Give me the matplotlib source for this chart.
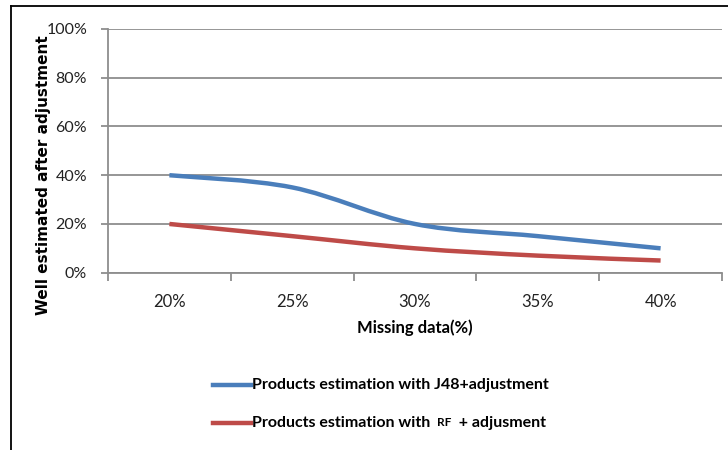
import numpy as np
import matplotlib.pyplot as plt
from matplotlib.path import Path
from matplotlib.patches import PathPatch
from matplotlib.lines import Line2D

categories = ['20%', '25%', '30%', '35%', '40%']
j48_adj = [40, 35, 20, 15, 10]
rf_adj = [20, 15, 10, 7, 5]
yticks = [0, 20, 40, 60, 80, 100]

blue = '#4a7ebb'
red = '#be4b48'
grid_c = '#8e8e8e'

plt.rcParams['font.family'] = ['Lato', 'DejaVu Sans']


def smooth_path(xs, ys):
    # excel style smoothed line: catmull-rom turned into cubic bezier pieces
    pts = np.column_stack([xs, ys]).astype(float)
    n = len(pts)
    verts = [pts[0]]
    codes = [Path.MOVETO]
    for i in range(n - 1):
        p0 = pts[max(i - 1, 0)]
        p1 = pts[i]
        p2 = pts[i + 1]
        p3 = pts[min(i + 2, n - 1)]
        c1 = p1 + (p2 - p0) / 6.0
        c2 = p2 - (p3 - p1) / 6.0
        verts += [c1, c2, p2]
        codes += [Path.CURVE4] * 3
    return Path(verts, codes)


fig = plt.figure(figsize=(7.28, 4.5), dpi=100)
ax = fig.add_axes([108 / 728, 1 - 272.7 / 450, 614 / 728, 243.7 / 450])

x = np.arange(len(categories)) + 0.5
for vals, col in [(j48_adj, blue), (rf_adj, red)]:
    ax.add_patch(PathPatch(smooth_path(x, vals), facecolor='none', edgecolor=col,
                           lw=3.2, capstyle='butt', zorder=3))

ax.set_xlim(0, 5)
ax.set_ylim(0, 100)
ax.set_yticks(yticks)
ax.set_yticklabels([f'{v}%' for v in yticks], fontsize=11.5, color='#222222')
ax.yaxis.grid(True, color=grid_c, lw=1.3)
ax.set_axisbelow(True)

ax.set_xticks(np.arange(6))
ax.set_xticklabels([])
ax.set_xticks(x, minor=True)
ax.set_xticklabels(categories, minor=True, fontsize=12, color='#222222')
ax.tick_params(axis='x', which='minor', length=0, pad=15)
ax.tick_params(axis='x', which='major', length=6, color=grid_c, width=1.3)
ax.tick_params(axis='y', length=5, color=grid_c, width=1.3, pad=10)

for s in ['top', 'right']:
    ax.spines[s].set_visible(False)
for s in ['left', 'bottom']:
    ax.spines[s].set_color(grid_c)
    ax.spines[s].set_linewidth(1.3)

ax.set_xlabel('Missing data(%)', fontsize=12, weight='bold', labelpad=7)
fig.text(44 / 728, 1 - 175 / 450, 'Well estimated after adjustment', rotation=90,
         family='DejaVu Sans', weight='bold', fontsize=11, ha='center', va='center')

# legend drawn by hand so that "RF" can be set smaller
fig.add_artist(Line2D([213 / 728, 251 / 728], [1 - 385 / 450] * 2, color=blue, lw=3.2))
fig.add_artist(Line2D([213 / 728, 251 / 728], [1 - 423 / 450] * 2, color=red, lw=3.2))
fig.text(252 / 728, 1 - 385 / 450, 'Products estimation with J48+adjustment',
         fontsize=11.5, weight='bold', va='center')
t1 = fig.text(252 / 728, 1 - 423 / 450, 'Products estimation with ',
              fontsize=11.5, weight='bold', va='center')
t2 = ax.annotate('RF', xy=(1, 0.5), xycoords=t1, xytext=(2, 0), textcoords='offset points',
                 fontsize=8.5, weight='bold', va='center')
ax.annotate('  + adjusment', xy=(1, 0.5), xycoords=t2, fontsize=11.5, weight='bold', va='center')

# frame around the chart (top and left edges)
fig.add_artist(Line2D([10.5 / 728, 10.5 / 728], [0, 1 - 6 / 450], color='black', lw=1.3))
fig.add_artist(Line2D([10.5 / 728, 1], [1 - 6 / 450] * 2, color='black', lw=1.3))

fig.savefig('out.png', dpi=100)
